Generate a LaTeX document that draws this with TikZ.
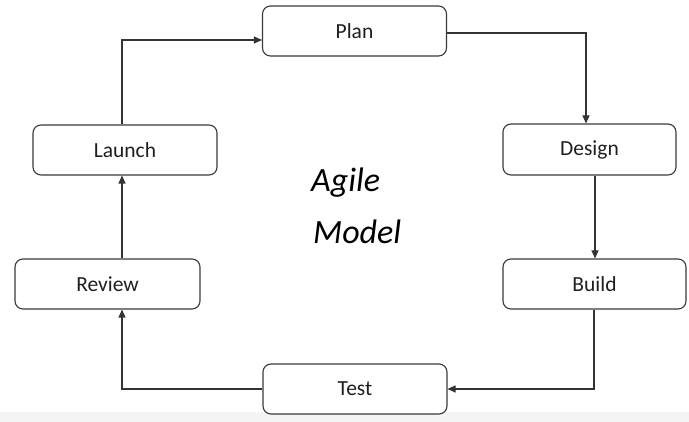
\documentclass[tikz,border=0pt]{standalone}
\usepackage{fontspec}
\setmainfont{Carlito}
\usetikzlibrary{arrows.meta}
\definecolor{boxline}{HTML}{3A3A3A}
\definecolor{strip}{HTML}{F4F4F4}
\tikzset{
  stage/.style={draw=boxline, line width=1.1pt, rounded corners=8pt, inner sep=0pt, fill=white,
    font=\fontsize{21.5}{24}\selectfont, text=black!88},
  flow/.style={draw=black!80, line width=1.1pt, -{Triangle[length=8pt,width=7pt]}},
  big/.style={font=\fontsize{34}{38}\itshape\selectfont, anchor=base west, inner sep=0pt}
}
\begin{document}
\begin{tikzpicture}[x=1pt,y=-1pt]
\useasboundingbox (0,0) rectangle (689,422);
\fill[white] (0,0) rectangle (689,422);
\fill[strip] (0,412) rectangle (689,422);
\node[stage, minimum width=184pt, minimum height=50pt] (plan)   at (354.5,31)  {Plan};
\node[stage, minimum width=173pt, minimum height=51pt] (design) at (589.5,149.5) {Design};
\node[stage, minimum width=183pt, minimum height=50pt] (build)  at (594.5,284) {Build};
\node[stage, minimum width=184pt, minimum height=50pt] (test)   at (355,389) {Test};
\node[stage, minimum width=185pt, minimum height=50pt] (review) at (107.5,284) {Review};
\node[stage, minimum width=184pt, minimum height=50pt] (launch) at (125,150) {Launch};
\node[big] (agile) at (311,192) {Agile};
\node[big] (model) at (313,244) {Model};
\coordinate (c1) at (586,33);
\coordinate (c2) at (594,389);
\coordinate (c3) at (122,389);
\coordinate (c4) at (122,40);
\draw[flow] (plan.east |- c1) -- (c1) -- (c1 |- design.north);
\draw[flow] (design.south -| 595,0) -- (build.north -| 595,0);
\draw[flow] (c2 |- build.south) -- (c2) -- (test.east |- c2);
\draw[flow] (test.west |- c3) -- (c3) -- (c3 |- review.south);
\draw[flow] (review.north -| c3) -- (launch.south -| c3);
\draw[flow] (launch.north -| c4) -- (c4) -- (plan.west |- c4);
\end{tikzpicture}
\end{document}
